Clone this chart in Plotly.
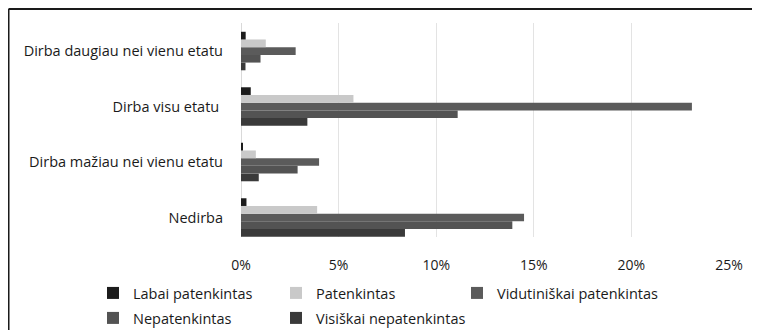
import plotly.graph_objects as go

# categories, bottom to top
categories = ['Nedirba', 'Dirba mažiau nei vienu etatu', 'Dirba visu etatu ', 'Dirba daugiau nei vienu etatu']

series_names = ['Labai patenkintas', 'Patenkintas', 'Vidutiniškai patenkintas',
                'Nepatenkintas', 'Visiškai nepatenkintas']

# shares (fraction) per category, same order as categories
labai = [0.0028, 0.0009, 0.005, 0.0024]
patenkintas = [0.039, 0.0076, 0.0576, 0.0127]
vidutiniskai = [0.145, 0.040, 0.231, 0.028]
nepatenkintas = [0.139, 0.029, 0.111, 0.010]
visiskai = [0.084, 0.0091, 0.034, 0.0023]

values = [labai, patenkintas, vidutiniskai, nepatenkintas, visiskai]
colors = ['#1c1c1c', '#c9c9c9', '#5b5b5b', '#535353', '#3a3a3a']

# legend placement (container coords) for each series
legend_pos = [(0.113, 0.1149), (0.3564, 0.1149), (0.5971, 0.1149),
              (0.113, 0.0373), (0.3564, 0.0373)]

fig = go.Figure()

# add in reverse so the first series sits on top of each group
for i in reversed(range(len(series_names))):
    lg = 'legend' if i == 0 else f'legend{i + 1}'
    fig.add_trace(go.Bar(
        y=categories, x=values[i], name=series_names[i], orientation='h',
        marker=dict(color=colors[i], line=dict(width=0)),
        legend=lg
    ))

layout_legends = {}
for i, (lx, ly) in enumerate(legend_pos):
    key = 'legend' if i == 0 else f'legend{i + 1}'
    layout_legends[key] = dict(
        x=lx, y=ly, xref='container', yref='container',
        xanchor='left', yanchor='middle', orientation='h',
        font=dict(family='Open Sans', size=14.5, color='#1a1a1a'),
        bgcolor='rgba(0,0,0,0)', itemwidth=30
    )

# page has an 8px body margin, so the figure is 752x322
fig.update_layout(
    width=752, height=322,
    margin=dict(l=233, r=31, t=15, b=93),
    plot_bgcolor='white', paper_bgcolor='white',
    barmode='group', bargap=0.306, bargroupgap=0,
    showlegend=True,
    font=dict(family='Open Sans', size=14, color='#1a1a1a'),
    xaxis=dict(range=[0, 0.25], tickvals=[0, 0.05, 0.10, 0.15, 0.20, 0.25],
               tickformat='.0%', showgrid=True, gridcolor='#e3e3e3', gridwidth=1,
               zeroline=True, zerolinecolor='#d9d9d9', zerolinewidth=1,
               showline=False, ticklabelstandoff=18, automargin=False,
               tickfont=dict(size=14, color='#1a1a1a')),
    yaxis=dict(type='category', categoryorder='array', categoryarray=categories,
               range=[-0.351, 3.505], showgrid=False, showline=False,
               ticks='', ticklabelstandoff=17, automargin=False,
               tickfont=dict(size=14.5, color='#1a1a1a')),
    shapes=[
        dict(type='line', xref='paper', yref='paper', x0=-0.4764, x1=1.2,
             y0=1.0654, y1=1.0654, line=dict(color='#1a1a1a', width=2)),
        dict(type='line', xref='paper', yref='paper', x0=-0.4764, x1=-0.4764,
             y0=1.0654, y1=-0.5, line=dict(color='#1a1a1a', width=2)),
    ],
    **layout_legends
)

fig.write_html('out.html')
print('finished')
